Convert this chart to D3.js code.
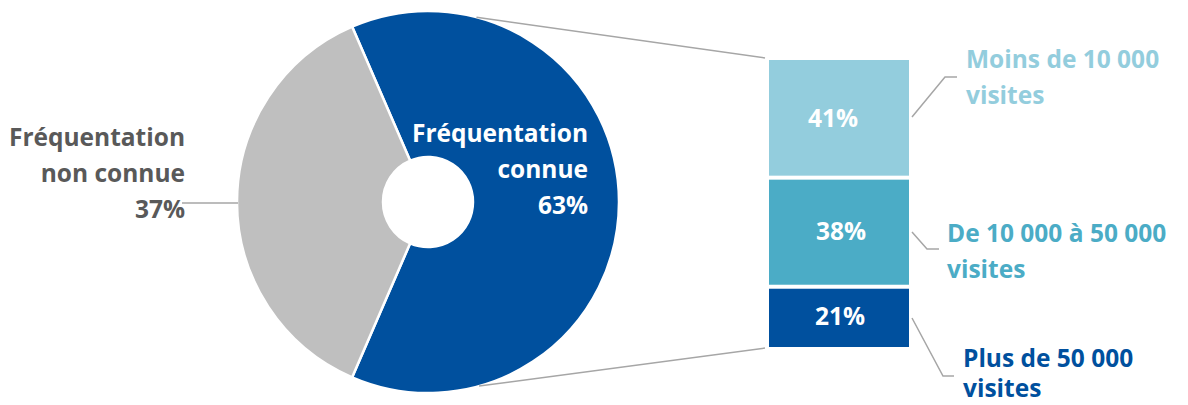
<!DOCTYPE html>
<html>
<head>
<meta charset="utf-8">
<script src="https://cdn.jsdelivr.net/npm/d3@7"></script>
<style>
  body { margin: 0; background: #fff; }
  text { font-family: "Open Sans", sans-serif; font-weight: 700; }
</style>
</head>
<body>
<svg></svg>
<script>
// data
var pieLabels = [["Fréquentation", "connue"], ["Fréquentation", "non connue"]];
var pieValues = [63, 37];
var barLabels = [["Moins de 10 000", "visites"], ["De 10 000 à 50 000", "visites"], ["Plus de 50 000", "visites"]];
var barValues = [41, 38, 21];

var width = 1188, height = 405;
var svg = d3.select("svg").attr("width", width).attr("height", height);

var pieColors = ["#00509e", "#bfbfbf"];
var barColors = ["#93cddd", "#4bacc6", "#00509e"];
var lineColor = "#a6a6a6";
var fontSize = 24.5, lineH = 36;

// pie
var cx = 428, cy = 202, rOuter = 191, rInner = 45;
var share = pieValues[0] / d3.sum(pieValues);
var start = Math.PI / 2 - share * Math.PI; // blue slice centred on the right

var pie = d3.pie().sort(null).startAngle(start).endAngle(start + 2 * Math.PI);
var arc = d3.arc().innerRadius(rInner).outerRadius(rOuter);
var arcs = pie(pieValues);

var g = svg.append("g").attr("transform", "translate(" + cx + "," + cy + ")");
g.selectAll("path")
  .data(arcs)
  .enter()
  .append("path")
  .attr("d", arc)
  .attr("fill", function(d, i){ return pieColors[i]; })
  .attr("stroke", "#fff")
  .attr("stroke-width", 2.5);

// bar (stacked column)
var barX = 769, barW = 140;
var y = d3.scaleLinear().domain([0, d3.sum(barValues)]).range([60, 347]);
var stack = [];
var acc = 0;
barValues.forEach(function(v, i){
  stack.push({ v: v, y0: acc, y1: acc + v, i: i });
  acc += v;
});

svg.selectAll("rect.seg")
  .data(stack)
  .enter()
  .append("rect")
  .attr("class", "seg")
  .attr("x", barX)
  .attr("width", barW)
  .attr("y", function(d){ return y(d.y0) + (d.i > 0 ? 2 : 0); })
  .attr("height", function(d){ return y(d.y1) - y(d.y0) - (d.i > 0 ? 2 : 0) - (d.i < stack.length - 1 ? 2 : 0); })
  .attr("fill", function(d){ return barColors[d.i]; });

var barLabelDx = [-6, 2, 1];
svg.selectAll("text.pct")
  .data(stack)
  .enter()
  .append("text")
  .attr("class", "pct")
  .attr("x", function(d){ return barX + barW / 2 + barLabelDx[d.i]; })
  .attr("y", function(d){ return (y(d.y0) + y(d.y1)) / 2 + 8; })
  .attr("text-anchor", "middle")
  .attr("fill", "#fff")
  .style("font-size", fontSize + "px")
  .text(function(d){ return d.v + "%"; });

// connector lines pie -> bar
function piePoint(a){ return [cx + rOuter * Math.sin(a), cy - rOuter * Math.cos(a)]; }
var topPt = piePoint(14.7 * Math.PI / 180);
var botPt = piePoint(164.5 * Math.PI / 180);
svg.append("line")
  .attr("x1", topPt[0]).attr("y1", topPt[1])
  .attr("x2", barX - 4).attr("y2", y(0) - 2)
  .attr("stroke", lineColor).attr("stroke-width", 1.5);
svg.append("line")
  .attr("x1", botPt[0]).attr("y1", botPt[1])
  .attr("x2", barX - 4).attr("y2", y(d3.sum(barValues)) + 1)
  .attr("stroke", lineColor).attr("stroke-width", 1.5);

// pie labels
function multiline(sel, lines, x, y0, anchor, color, lh){
  var t = svg.append("text")
    .attr("text-anchor", anchor)
    .attr("fill", color)
    .style("font-size", fontSize + "px");
  lines.forEach(function(l, k){
    t.append("tspan").attr("x", x).attr("y", y0 + k * (lh || lineH)).text(l);
  });
  return t;
}

multiline(svg, pieLabels[0].concat([pieValues[0] + "%"]), 588, 142, "end", "#fff");
multiline(svg, pieLabels[1].concat([pieValues[1] + "%"]), 185, 146, "end", "#595959");

// leader for the grey slice
svg.append("line")
  .attr("x1", 182).attr("y1", 203)
  .attr("x2", cx - rOuter + 1).attr("y2", 203)
  .attr("stroke", lineColor).attr("stroke-width", 1.5);

// bar labels with leaders
var labelPos = [
  { x: 966, y: 68,  lh: 36, lead: [[912, 117], [945, 77], [957, 77]] },
  { x: 947, y: 242, lh: 36, lead: [[912, 232], [927, 249], [939, 249]] },
  { x: 963, y: 367, lh: 30, lead: [[912, 318], [943, 376], [954, 376]] }
];
labelPos.forEach(function(p, i){
  svg.append("path")
    .attr("d", d3.line()(p.lead))
    .attr("fill", "none")
    .attr("stroke", lineColor)
    .attr("stroke-width", 1.5);
  multiline(svg, barLabels[i], p.x, p.y, "start", barColors[i], p.lh);
});
</script>
</body>
</html>
